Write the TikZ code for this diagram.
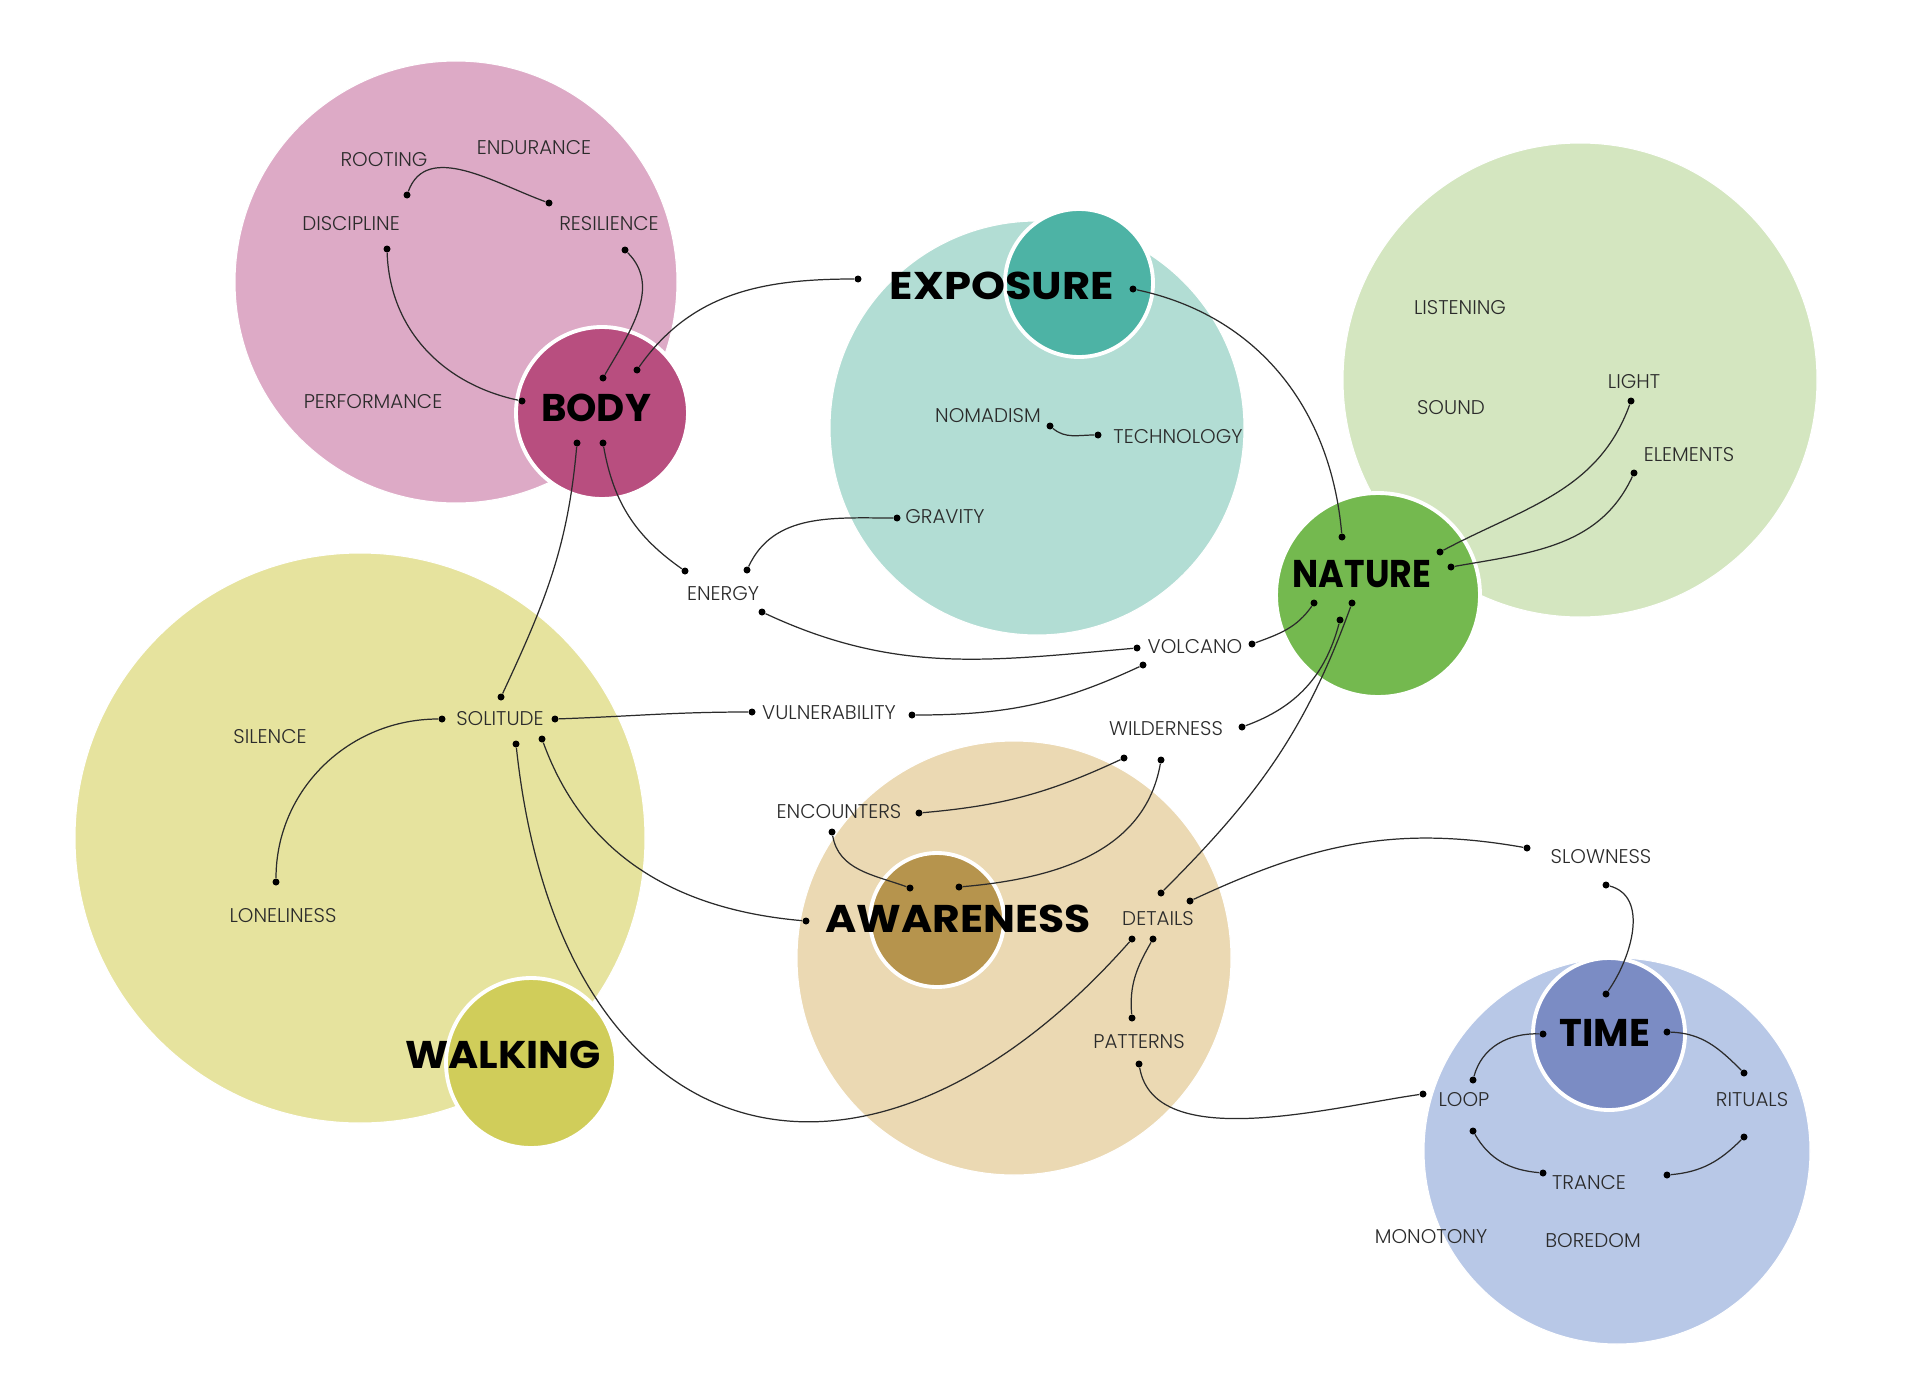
\documentclass[tikz,border=0pt]{standalone}
\usepackage{fontspec}
\setmainfont{Poppins}
\newfontfamily\thinfont{Poppins Light}
\usepackage{tikz}
\usetikzlibrary{positioning,calc}

\definecolor{ink}{HTML}{2B2B2B}
\definecolor{bodyL}{HTML}{DDAAC6}
\definecolor{bodyS}{HTML}{B84E7F}
\definecolor{expoL}{HTML}{B2DDD4}
\definecolor{expoS}{HTML}{4DB3A5}
\definecolor{natL}{HTML}{D4E6C0}
\definecolor{natS}{HTML}{74B94F}
\definecolor{walkL}{HTML}{E6E39E}
\definecolor{walkS}{HTML}{D0CD5A}
\definecolor{awarL}{HTML}{EBD9B3}
\definecolor{awarS}{HTML}{B6944D}
\definecolor{timeL}{HTML}{B8C8E7}
\definecolor{timeS}{HTML}{7B8CC4}

\begin{document}
\begin{tikzpicture}[
  x=0.02cm, y=0.02cm,
  big/.style ={fill=#1, draw=white, line width=0.6pt},
  hub/.style ={fill=#1, draw=white, line width=2.2pt},
  ttl/.style ={font=\fontsize{22}{24}\selectfont\bfseries, text=black, inner sep=0pt},
  lbl/.style ={font=\thinfont\fontsize{11.3}{13}\selectfont, text=ink, inner sep=0pt},
  dot/.style ={circle, fill=black, inner sep=0pt, minimum size=0.14cm},
  link/.style={ink, line width=0.7pt},
]
\useasboundingbox (0,0) rectangle (1920,-1399);

% large fields
\fill[big=bodyL] (456,-282) circle (221);
\fill[big=expoL] (1037,-428) circle (207);
\fill[big=natL]  (1580,-380) circle (237);
\fill[big=walkL] (360,-838) circle (285);
\fill[big=awarL] (1014,-958) circle (217);
\fill[big=timeL] (1617,-1151) circle (193);

% hubs
\filldraw[hub=bodyS] (602,-413) circle (86);
\filldraw[hub=expoS] (1079,-283) circle (74);
\filldraw[hub=natS]  (1378,-595) circle (102);
\filldraw[hub=walkS] (531,-1063) circle (85);
\filldraw[hub=awarS] (937,-920) circle (67);
\filldraw[hub=timeS] (1609,-1034) circle (76);

\node[ttl] (body) at (596,-408)  {BODY};
\node[ttl] (expo) at (1002,-286) {\scalebox{1.12}[1]{EXPOSURE}};
\node[ttl] (natu) at (1362,-574) {\scalebox{0.9}[1]{NATURE}};
\node[ttl] (walk) at (503,-1055) {\scalebox{1.06}[1]{WALKING}};
\node[ttl] (awar) at (958,-919)  {\scalebox{1.1}[1]{AWARENESS}};
\node[ttl] (time) at (1605,-1033){TIME};

% labels
\node[lbl] (rooting)  at (384,-160)  {ROOTING};
\node[lbl] (endur)    at (534,-148)  {ENDURANCE};
\node[lbl] (discip)   at (351,-224)  {DISCIPLINE};
\node[lbl] (resil)    at (609,-224)  {RESILIENCE};
\node[lbl] (perform)  at (373,-402)  {PERFORMANCE};
\node[lbl] (nomad)    at (988,-416)  {NOMADISM};
\node[lbl] (techno)   at (1178,-437) {TECHNOLOGY};
\node[lbl] (gravity)  at (945,-517)  {GRAVITY};
\node[lbl] (listen)   at (1460,-308) {LISTENING};
\node[lbl] (sound)    at (1451,-408) {SOUND};
\node[lbl] (light)    at (1634,-382) {LIGHT};
\node[lbl] (elem)     at (1689,-455) {ELEMENTS};
\node[lbl] (energy)   at (723,-594)  {ENERGY};
\node[lbl] (volcano)  at (1195,-647) {VOLCANO};
\node[lbl] (vulner)   at (829,-713)  {VULNERABILITY};
\node[lbl] (wild)     at (1166,-729) {WILDERNESS};
\node[lbl] (solit)    at (500,-719)  {SOLITUDE};
\node[lbl] (silence)  at (270,-737)  {SILENCE};
\node[lbl] (lonely)   at (283,-916)  {LONELINESS};
\node[lbl] (encount)  at (839,-812)  {ENCOUNTERS};
\node[lbl] (details)  at (1158,-919) {DETAILS};
\node[lbl] (pattern)  at (1139,-1042){PATTERNS};
\node[lbl] (slow)     at (1601,-857) {SLOWNESS};
\node[lbl] (loop)     at (1464,-1100){LOOP};
\node[lbl] (ritual)   at (1752,-1100){RITUALS};
\node[lbl] (trance)   at (1589,-1183){TRANCE};
\node[lbl] (monot)    at (1431,-1237){MONOTONY};
\node[lbl] (boredom)  at (1593,-1241){BOREDOM};

% dots
\node[dot] (rootD)  at (407,-195) {};
\node[dot] (resiA)  at (549,-203) {};
\node[dot] (discD)  at (387,-249) {};
\node[dot] (resiB)  at (625,-250) {};
\node[dot] (bodyW)  at (522,-401) {};
\node[dot] (bodyN1) at (603,-378) {};
\node[dot] (bodyN2) at (637,-370) {};
\node[dot] (bodyS1) at (577,-443) {};
\node[dot] (bodyS2) at (603,-443) {};
\node[dot] (expoW)  at (858,-279) {};
\node[dot] (expoE)  at (1133,-289) {};
\node[dot] (nomD)   at (1050,-426) {};
\node[dot] (techD)  at (1098,-435) {};
\node[dot] (gravD)  at (897,-518) {};
\node[dot] (natN)   at (1342,-537) {};
\node[dot] (natL)   at (1440,-552) {};
\node[dot] (natE)   at (1451,-567) {};
\node[dot] (natSW)  at (1314,-603) {};
\node[dot] (natS1)  at (1352,-603) {};
\node[dot] (natS2)  at (1340,-620) {};
\node[dot] (lightD) at (1631,-401) {};
\node[dot] (elemD)  at (1634,-473) {};
\node[dot] (enW)    at (685,-571) {};
\node[dot] (enN)    at (747,-570) {};
\node[dot] (enS)    at (762,-612) {};
\node[dot] (volW)   at (1137,-648) {};
\node[dot] (volE)   at (1252,-644) {};
\node[dot] (volS)   at (1143,-665) {};
\node[dot] (vulW)   at (752,-712) {};
\node[dot] (vulE)   at (912,-715) {};
\node[dot] (wilE)   at (1242,-727) {};
\node[dot] (wilS1)  at (1124,-758) {};
\node[dot] (wilS2)  at (1161,-760) {};
\node[dot] (solN)   at (501,-697) {};
\node[dot] (solW)   at (442,-719) {};
\node[dot] (solE)   at (555,-719) {};
\node[dot] (solS1)  at (516,-744) {};
\node[dot] (solS2)  at (542,-739) {};
\node[dot] (loneD)  at (276,-882) {};
\node[dot] (encE)   at (919,-813) {};
\node[dot] (encS)   at (832,-832) {};
\node[dot] (awW)    at (806,-921) {};
\node[dot] (awN1)   at (910,-888) {};
\node[dot] (awN2)   at (959,-887) {};
\node[dot] (detN)   at (1161,-893) {};
\node[dot] (detE)   at (1190,-901) {};
\node[dot] (detS1)  at (1132,-939) {};
\node[dot] (detS2)  at (1153,-939) {};
\node[dot] (patN)   at (1132,-1018) {};
\node[dot] (patS)   at (1139,-1064) {};
\node[dot] (sloW)   at (1527,-848) {};
\node[dot] (sloS)   at (1606,-885) {};
\node[dot] (timeN)  at (1606,-994) {};
\node[dot] (timeW)  at (1543,-1034) {};
\node[dot] (timeE)  at (1667,-1032) {};
\node[dot] (loopW)  at (1423,-1094) {};
\node[dot] (loopN)  at (1473,-1080) {};
\node[dot] (loopS)  at (1473,-1131) {};
\node[dot] (ritN)   at (1744,-1073) {};
\node[dot] (ritS)   at (1744,-1137) {};
\node[dot] (trW)    at (1543,-1173) {};
\node[dot] (trE)    at (1667,-1175) {};

% links
\draw[link] (rootD) to[out=70,in=160] (resiA);
\draw[link] (discD) to[out=-88,in=168] (bodyW);
\draw[link] (resiB) to[out=-45,in=60] (bodyN1);
\draw[link] (bodyN2) to[out=55,in=180] (expoW);
\draw[link] (bodyS1) to[out=-95,in=65] (solN);
\draw[link] (bodyS2) to[out=-80,in=145] (enW);
\draw[link] (enN) to[out=65,in=180] (gravD);
\draw[link] (enS) to[out=-25,in=185] (volW);
\draw[link] (nomD) to[out=-40,in=180] (techD);
\draw[link] (expoE) to[out=-12,in=95] (natN);
\draw[link] (natL) to[out=28,in=-110] (lightD);
\draw[link] (natE) to[out=10,in=-115] (elemD);
\draw[link] (volE) to[out=20,in=-125] (natSW);
\draw[link] (wilE) to[out=20,in=-105] (natS2);
\draw[link] (detN) to[out=45,in=-110] (natS1);
\draw[link] (vulE) to[out=0,in=-155] (volS);
\draw[link] (solE) to[out=2,in=180] (vulW);
\draw[link] (loneD) to[out=90,in=180] (solW);
\draw[link] (solS2) to[out=-70,in=175] (awW);
\draw[link] (solS1) .. controls +(45,-420) and +(-265,-300) .. (detS1);
\draw[link] (encE) to[out=5,in=-155] (wilS1);
\draw[link] (encS) to[out=-80,in=160] (awN1);
\draw[link] (wilS2) to[out=-100,in=5] (awN2);
\draw[link] (detS2) to[out=-120,in=95] (patN);
\draw[link] (patS) to[out=-80,in=188,looseness=0.8] (loopW);
\draw[link] (detE) to[out=25,in=170] (sloW);
\draw[link] (sloS) to[out=-15,in=55] (timeN);
\draw[link] (timeW) to[out=178,in=75] (loopN);
\draw[link] (timeE) to[out=-2,in=135] (ritN);
\draw[link] (loopS) to[out=-60,in=175] (trW);
\draw[link] (ritS) to[out=-135,in=5] (trE);
\end{tikzpicture}
\end{document}
